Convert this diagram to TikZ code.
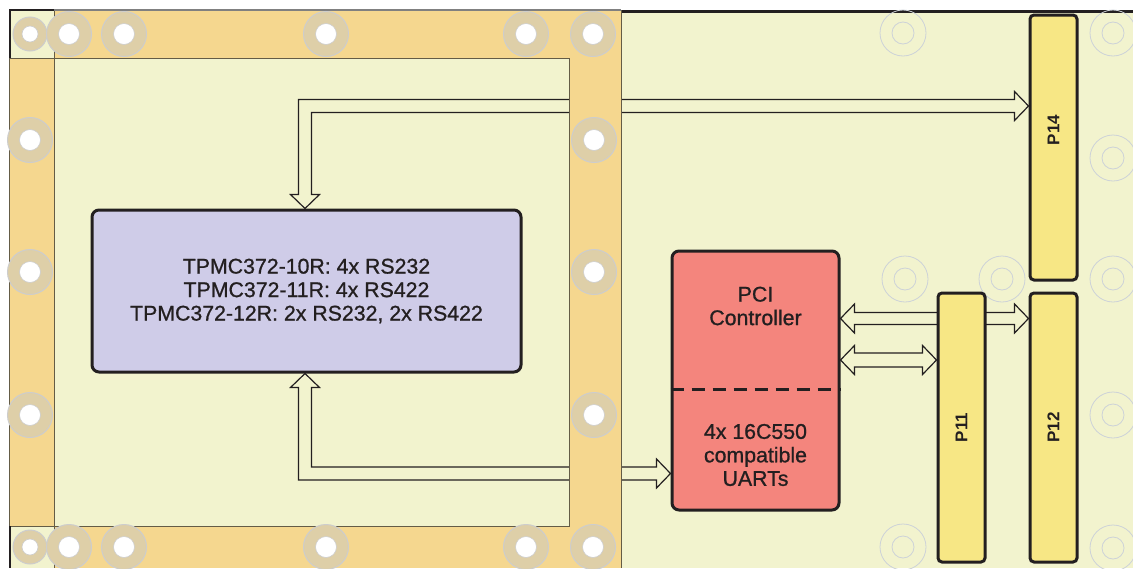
\documentclass[tikz,border=0pt]{standalone}
\usepackage{fontspec}
\setmainfont{Liberation Sans}
\newfontfamily\medfont[FakeBold=0.9]{Liberation Sans}
\usetikzlibrary{calc}
\pgfdeclarelayer{board}
\pgfdeclarelayer{arrows}
\pgfdeclarelayer{frame}
\pgfsetlayers{board,arrows,frame,main}
\definecolor{boardyel}{RGB}{242,243,206}
\definecolor{frameorg}{RGB}{245,215,143}
\definecolor{ringtan}{RGB}{222,207,168}
\definecolor{ringline}{RGB}{205,205,205}
\definecolor{lav}{RGB}{207,204,232}
\definecolor{salmon}{RGB}{244,133,125}
\definecolor{conyel}{RGB}{247,231,133}
\definecolor{ghost}{RGB}{205,210,216}
\definecolor{textdark}{RGB}{35,31,32}
\definecolor{frameline}{RGB}{100,92,70}
\begin{document}
\begin{tikzpicture}[x=1pt,y=-1pt,
  box/.style={draw=textdark, line width=3pt, rounded corners=7pt, inner sep=0pt},
  conn/.style={box, fill=conyel, minimum width=47pt, rounded corners=4pt},
  blockarrow/.style={draw=textdark, line width=1.2pt, fill=boardyel, line join=miter},
  lbl/.style={font=\medfont\fontsize{21.3}{23.5}\selectfont, align=center, text=textdark, inner sep=0pt},
  plbl/.style={font=\bfseries\fontsize{17}{17}\selectfont, rotate=90, text=textdark, inner sep=0pt},
  bigring/.style={fill=ringtan, draw=ringline, line width=1pt},
  hole/.style={fill=white, draw=ringline, line width=0.6pt},
  ghostring/.style={draw=ghost, line width=0.8pt},
  edge/.style={draw=frameline, line width=1pt}]
\useasboundingbox (0,0) rectangle (1133,568);

% ---------- nodes ----------
\node[box, fill=lav, minimum width=429pt, minimum height=162pt] (modes) at (306.5,291) {};
\node[lbl] (modestxt) at (modes.center) {TPMC372-10R: 4x RS232\\TPMC372-11R: 4x RS422\\TPMC372-12R: 2x RS232, 2x RS422};

\node[box, fill=salmon, minimum width=167pt, minimum height=259pt] (pci) at (755.5,380.5) {};
\node[lbl] (pcitxt) at (755.5,306) {PCI\\Controller};
\node[lbl] (uarttxt) at (755.5,455) {4x 16C550\\compatible\\UARTs};
\coordinate (dl) at (0,389);
\draw[textdark, line width=3pt, dash pattern=on 13pt off 8pt] (pci.west |- dl) -- (pci.east |- dl);

\node[conn, minimum height=265pt] (p14) at (1053.5,147.5) {};
\node[plbl] (p14txt) at (1053.5,130) {P14};
\node[conn, minimum height=269pt] (p12) at (1053.5,427.5) {};
\node[plbl] (p12txt) at (p12.center) {P12};
\node[conn, minimum height=269pt] (p11) at (961.5,427.5) {};
\node[plbl] (p11txt) at (p11.center) {P11};

% ---------- board ----------
\begin{pgfonlayer}{board}
  \fill[white] (0,0) rectangle (1133,568);
  \fill[boardyel] (9,10) rectangle (1133,568);
  \draw[textdark, line width=2.5pt] (621,11.5) -- (1133,11.5);
  \foreach \p in {(903,33),(1113,33),(1113,158),(1113,279),(1113,415),(1113,548),(903,547),(905,279),(1002,279)}{
    \draw[ghostring] \p circle[radius=23];
    \draw[ghostring] \p circle[radius=11];
  }
\end{pgfonlayer}

% ---------- block arrows ----------
\coordinate (v) at (305,0);
\coordinate (h1) at (0,106);
\coordinate (h2) at (0,473.5);
\coordinate (a3) at (0,318.5);
\coordinate (a4) at (0,360);
\begin{pgfonlayer}{arrows}
  % strip to P14 and down to the module box
  \draw[blockarrow] (p14.west |- h1) -- ++(-14,14.5) -- ++(0,-8)
    -- ($(v |- h1)+(6.5,6.5)$) -- ($(v |- modes.north)+(6.5,-14)$) -- ++(8,0)
    -- (v |- modes.north) -- ++(-14.5,-14) -- ++(8,0)
    -- ($(v |- h1)+(-6.5,-6.5)$) -- ($(p14.west |- h1)+(-14,-6.5)$) -- ++(0,-8) -- cycle;
  % module box to PCI controller
  \draw[blockarrow] (v |- modes.south) -- ++(14.5,14) -- ++(-8,0)
    -- ($(v |- h2)+(6.5,-6.5)$) -- ($(pci.west |- h2)+(-14,-6.5)$) -- ++(0,-8)
    -- (pci.west |- h2) -- ++(-14,14.5) -- ++(0,-8)
    -- ($(v |- h2)+(-6.5,6.5)$) -- ($(v |- modes.south)+(-6.5,14)$) -- ++(-8,0) -- cycle;
  % PCI <-> P12
  \draw[blockarrow] (pci.east |- a3) -- ++(14,-14.5) -- ++(0,8.5)
    -- ($(p12.west |- a3)+(-14,-6)$) -- ++(0,-8.5) -- (p12.west |- a3)
    -- ++(-14,14.5) -- ++(0,-8.5) -- ($(pci.east |- a3)+(14,6)$) -- ++(0,8.5) -- cycle;
  % PCI <-> P11
  \draw[blockarrow] (pci.east |- a4) -- ++(14,-14.5) -- ++(0,7.5)
    -- ($(p11.west |- a4)+(-14,-7)$) -- ++(0,-7.5) -- (p11.west |- a4)
    -- ++(-14,14.5) -- ++(0,-7.5) -- ($(pci.east |- a4)+(14,7)$) -- ++(0,7.5) -- cycle;
\end{pgfonlayer}

% ---------- frame ----------
\begin{pgfonlayer}{frame}
  \fill[frameorg] (54,10) rectangle (621,58);
  \fill[frameorg] (9,58) rectangle (54,526);
  \fill[frameorg] (569,58) rectangle (621,526);
  \fill[frameorg] (54,526) rectangle (621,568);
  \draw[edge] (54,58) rectangle (569,526);
  \draw[edge] (621,10) -- (621,568);
  \draw[edge] (9,58) -- (9,526);
  \draw[edge] (9,58) -- (54,58) -- (54,10);
  \draw[edge] (9,526) -- (54,526) -- (54,568);
  \draw[gray, line width=1.2pt] (54,10) -- (621,10);
  \draw[textdark, line width=2.5pt] (10,58) -- (10,10) -- (54,10);
  \draw[textdark, line width=2.5pt] (10,526) -- (10,568);
  % small corner rings
  \foreach \p in {(30,34),(30,547)}{
    \draw[bigring] \p circle[radius=17];
    \draw[hole] \p circle[radius=8];
  }
  % large rings
  \foreach \p in {(69,34),(124,34),(326,34),(526,34),(593,34),
                  (69,547),(124,547),(326,547),(526,547),(593,547),
                  (30,140),(30,272),(30,415),(594,140),(594,272),(594,415)}{
    \draw[bigring] \p circle[radius=22.5];
    \draw[hole] \p circle[radius=10.5];
  }
\end{pgfonlayer}
\end{tikzpicture}
\end{document}
